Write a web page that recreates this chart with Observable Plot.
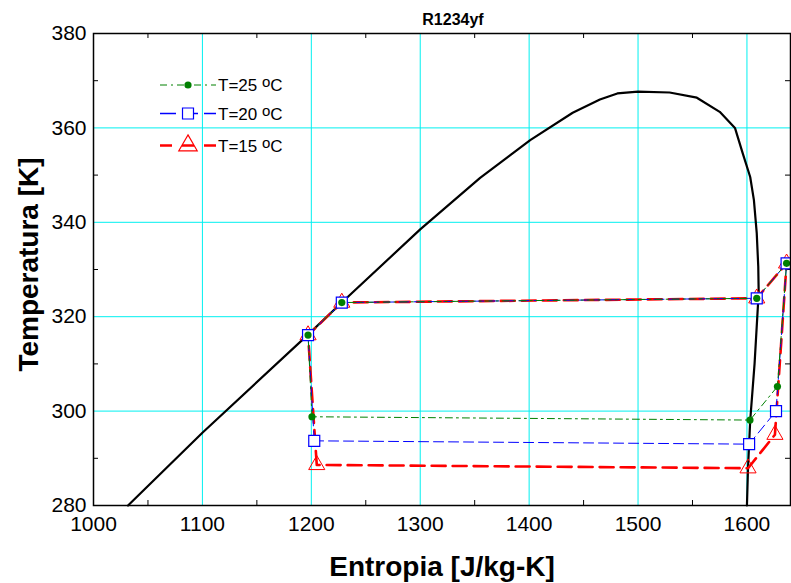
<!DOCTYPE html>
<html><head><meta charset="utf-8">
<script src="https://cdn.jsdelivr.net/npm/d3@7"></script>
<script src="https://cdn.jsdelivr.net/npm/@observablehq/plot@0.6"></script>
<style>
body{margin:0;background:#fff}
#wrap{position:relative;width:791px;height:583px;font-family:"Liberation Sans",Arial,sans-serif}
#legend{position:absolute;left:0;top:0}
</style>
</head><body><div id="wrap"></div>
<script>
const title = "R1234yf";
const xLabel = "Entropia [J/kg-K]";
const yLabel = "Temperatura [K]";
const xTicks = [1000, 1100, 1200, 1300, 1400, 1500, 1600];
const yTicks = [280, 300, 320, 340, 360, 380];
const xMinor = [1050, 1150, 1250, 1350, 1450, 1550];
const yMinor = [290, 310, 330, 350, 370];

// saturation dome
const domeS = [1031.7, 1100, 1197, 1228, 1300, 1355, 1401, 1440, 1465, 1481, 1500, 1529, 1554, 1575, 1589, 1596, 1603, 1606.4, 1609, 1610.4, 1610.8, 1610.5, 1607, 1603, 1602, 1601, 1600];
const domeT = [280, 295.4, 316.2, 323, 338.5, 349.4, 357.4, 363.2, 366.0, 367.3, 367.7, 367.5, 366.4, 363.4, 360, 354.7, 349.6, 344.7, 337.7, 330.6, 325, 324, 310, 298, 293, 288, 280];

// cycles
const seriesNames = ["T=25", "T=20", "T=15"];
const s25 = [1200.6, 1197, 1228, 1609, 1636.4, 1628, 1602.8, 1200.6];
const T25 = [298.8, 316.1, 323, 323.9, 331.3, 305.2, 298.1, 298.8];
const s20 = [1202.7, 1197, 1228, 1609, 1636.4, 1626.7, 1602, 1202.7];
const T20 = [293.7, 316.1, 323, 323.9, 331.3, 300, 293, 293.7];
const s15 = [1205, 1197, 1228, 1609, 1636.4, 1625.7, 1601, 1205];
const T15 = [288.6, 316.1, 323, 323.9, 331.3, 295, 287.9, 288.6];

const W = 791, H = 583, mL = 93, mR = 1, mT = 33, mB = 78;
const iw = W - mL - mR, ih = H - mT - mB;
const grid = "#00F0F0";

const dome = domeS.map((s, i) => ({s, T: domeT[i]}));
const mk = (S, T) => S.map((s, i) => ({s, T: T[i]}));
const d25 = mk(s25, T25), d20 = mk(s20, T20), d15 = mk(s15, T15);

const styles = [
  {name: seriesNames[0], color: "#008000", dash: "7,4,2,4", sw: 1, symbol: "circle", r: 3.6, fill: "#008000"},
  {name: seriesNames[1], color: "#0000FF", dash: "10,5", sw: 1, symbol: "square", r: 6.2, fill: "white"},
  {name: seriesNames[2], color: "#FF0000", dash: "14,7", sw: 2.6, symbol: "triangle", r: 6, fill: "none"}
];

const chart = Plot.plot({
  width: W, height: H,
  marginLeft: mL, marginRight: mR, marginTop: mT, marginBottom: mB,
  style: {fontFamily: "'Liberation Sans', Arial, sans-serif", background: "white"},
  x: {domain: [1000, 1640]},
  y: {domain: [280, 380]},
  marks: [
    Plot.gridX(xTicks.slice(1), {stroke: grid, strokeOpacity: 1, strokeWidth: 1}),
    Plot.gridY(yTicks.slice(1, -1), {stroke: grid, strokeOpacity: 1, strokeWidth: 1}),
    Plot.tickX(xMinor, {x: d => d, insetTop: ih - 5, stroke: "black"}),
    Plot.tickX(xMinor, {x: d => d, insetBottom: ih - 5, stroke: "black"}),
    Plot.tickY(yMinor, {y: d => d, insetRight: iw - 5, stroke: "black"}),
    Plot.tickY(yMinor, {y: d => d, insetLeft: iw - 5, stroke: "black"}),
    Plot.line(dome, {x: "s", y: "T", stroke: "black", strokeWidth: 2.2}),
    Plot.line(d15, {x: "s", y: "T", stroke: styles[2].color, strokeWidth: styles[2].sw, strokeDasharray: styles[2].dash}),
    Plot.line(d20, {x: "s", y: "T", stroke: styles[1].color, strokeWidth: styles[1].sw, strokeDasharray: styles[1].dash}),
    Plot.line(d25, {x: "s", y: "T", stroke: styles[0].color, strokeWidth: styles[0].sw, strokeDasharray: styles[0].dash}),
    Plot.dot(d15.slice(0, -1), {x: "s", y: "T", symbol: "triangle", r: styles[2].r, stroke: styles[2].color, strokeWidth: 1, fill: "none"}),
    Plot.dot(d20.slice(0, -1), {x: "s", y: "T", symbol: "square", r: styles[1].r, stroke: styles[1].color, strokeWidth: 1.2, fill: "white"}),
    Plot.dot(d25.slice(0, -1), {x: "s", y: "T", symbol: "circle", r: styles[0].r, fill: styles[0].color, stroke: "none"}),
    Plot.axisX({ticks: xTicks, tickSize: 0, tickPadding: 11, fontSize: 21, label: null, tickFormat: d => String(d)}),
    Plot.axisY({ticks: yTicks, tickSize: 0, tickPadding: 7, fontSize: 21, label: null, tickFormat: d => String(d)}),
    Plot.frame({stroke: "black", strokeWidth: 1.5}),
    Plot.text([title], {frameAnchor: "top", dy: -14, dx: 11, text: d => d, fontSize: 16, fontWeight: "bold", lineAnchor: "middle", textAnchor: "middle"}),
    Plot.text([xLabel], {frameAnchor: "bottom", dy: 62, text: d => d, fontSize: 28, fontWeight: "bold", lineAnchor: "middle", textAnchor: "middle"}),
    Plot.text([yLabel], {frameAnchor: "left", dx: -64, dy: -5, rotate: -90, text: d => d, fontSize: 28, fontWeight: "bold", lineAnchor: "middle", textAnchor: "middle"})
  ]
});
const wrap = document.getElementById("wrap");
wrap.appendChild(chart);

// legend overlay
const leg = d3.select(wrap).append("svg").attr("id", "legend").attr("width", W).attr("height", H);
const rows = [85, 113.5, 145.5];
styles.forEach((st, i) => {
  const g = leg.append("g").attr("transform", `translate(0,${rows[i]})`);
  g.append("line").attr("x1", 160).attr("x2", 216).attr("y1", 0).attr("y2", 0)
    .attr("stroke", st.color).attr("stroke-width", i === 1 ? 1.3 : st.sw).attr("stroke-dasharray", i === 0 ? "7,4,2,4" : (i === 1 ? "16,6" : "12,10"));
  const sym = {circle: d3.symbolCircle, square: d3.symbolSquare, triangle: d3.symbolTriangle}[st.symbol];
  g.append("path").attr("transform", "translate(188,0)")
    .attr("d", d3.symbol(sym, Math.PI * st.r * st.r * (i === 2 ? 1.3 : 1))())
    .attr("fill", st.fill).attr("stroke", i === 0 ? "none" : st.color).attr("stroke-width", 1.2);
  const t = g.append("text").attr("x", 218).attr("y", 6).attr("font-size", 17)
    .attr("font-family", "'Liberation Sans', Arial, sans-serif").attr("fill", "black");
  t.append("tspan").text(st.name + " ");
  t.append("tspan").attr("font-size", 15).attr("dy", -4).text("o");
  t.append("tspan").attr("dy", 4).text("C");
});
</script>
</body></html>
